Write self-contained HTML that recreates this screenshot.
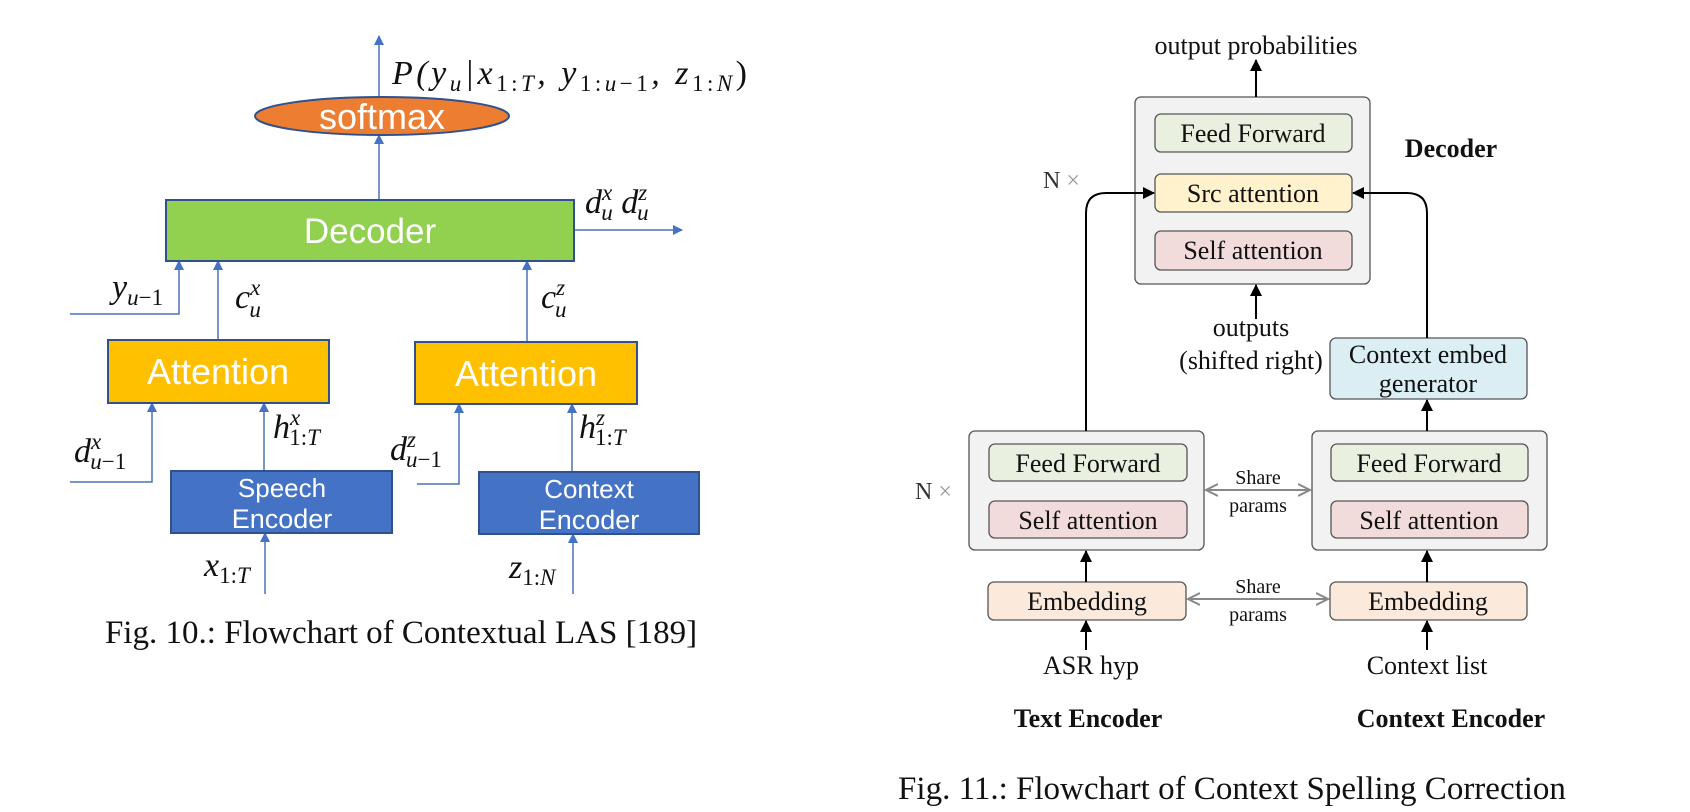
<!DOCTYPE html>
<html><head><meta charset="utf-8"><style>
html,body{margin:0;padding:0;background:#fff;}
svg{display:block;}
.m{font-family:"Liberation Serif",serif;font-style:italic;font-size:34px;fill:#111;}
.s{font-size:23px;}
.w{font-family:"Liberation Sans",sans-serif;fill:#fff;}
.t{font-family:"Liberation Serif",serif;fill:#111;}
</style></head><body>
<svg width="1690" height="812" viewBox="0 0 1690 812" xmlns="http://www.w3.org/2000/svg">
<defs>
<marker id="ab" markerWidth="10" markerHeight="10" refX="9" refY="5" orient="auto" markerUnits="userSpaceOnUse"><path d="M0,0 L10,5 L0,10 z" fill="#4472c4"/></marker>
<marker id="ak" markerWidth="12" markerHeight="12" refX="11" refY="6" orient="auto" markerUnits="userSpaceOnUse"><path d="M0,0 L12,6 L0,12 z" fill="#000"/></marker>
<marker id="ag" markerWidth="14" markerHeight="14" refX="12" refY="7" orient="auto" markerUnits="userSpaceOnUse"><path d="M0,1 L12,7 L0,13" fill="none" stroke="#888" stroke-width="2"/></marker>
<marker id="ags" markerWidth="14" markerHeight="14" refX="2" refY="7" orient="auto" markerUnits="userSpaceOnUse"><path d="M14,1 L2,7 L14,13" fill="none" stroke="#888" stroke-width="2"/></marker>
</defs>

<!-- LEFT DIAGRAM -->
<g stroke="#4a72b8" stroke-width="1.5" fill="none">
<line x1="379" y1="97" x2="379" y2="36" marker-end="url(#ab)"/>
<line x1="379" y1="200" x2="379" y2="135" marker-end="url(#ab)"/>
<line x1="574" y1="230" x2="682" y2="230" marker-end="url(#ab)"/>
<polyline points="70,314 179,314 179,261" marker-end="url(#ab)"/>
<line x1="218" y1="340" x2="218" y2="261" marker-end="url(#ab)"/>
<line x1="527" y1="342" x2="527" y2="261" marker-end="url(#ab)"/>
<polyline points="70,482 152,482 152,403" marker-end="url(#ab)"/>
<line x1="264" y1="471" x2="264" y2="403" marker-end="url(#ab)"/>
<polyline points="417,484 459,484 459,404" marker-end="url(#ab)"/>
<line x1="572" y1="472" x2="572" y2="404" marker-end="url(#ab)"/>
<line x1="265" y1="594" x2="265" y2="533" marker-end="url(#ab)"/>
<line x1="573" y1="594" x2="573" y2="534" marker-end="url(#ab)"/>
</g>
<ellipse cx="382" cy="116" rx="127" ry="19" fill="#ed7d31" stroke="#2f528f" stroke-width="2"/>
<text x="382" y="129" text-anchor="middle" class="w" font-size="36">softmax</text>
<rect x="166" y="200" width="408" height="61" fill="#92d050" stroke="#2f528f" stroke-width="2"/>
<text x="370" y="243" text-anchor="middle" class="w" font-size="35">Decoder</text>
<rect x="108" y="340" width="221" height="63" fill="#ffc000" stroke="#2f528f" stroke-width="2"/>
<text x="218" y="384" text-anchor="middle" class="w" font-size="36">Attention</text>
<rect x="415" y="342" width="222" height="62" fill="#ffc000" stroke="#2f528f" stroke-width="2"/>
<text x="526" y="386" text-anchor="middle" class="w" font-size="36">Attention</text>
<rect x="171" y="471" width="221" height="62" fill="#4472c4" stroke="#2f528f" stroke-width="2"/>
<text x="282" y="497" text-anchor="middle" class="w" font-size="26">Speech</text>
<text x="282" y="528" text-anchor="middle" class="w" font-size="27">Encoder</text>
<rect x="479" y="472" width="220" height="62" fill="#4472c4" stroke="#2f528f" stroke-width="2"/>
<text x="589" y="498" text-anchor="middle" class="w" font-size="26">Context</text>
<text x="589" y="529" text-anchor="middle" class="w" font-size="27">Encoder</text>

<text x="392" y="84" class="m" textLength="355">P(y<tspan class="s" dy="7">u</tspan><tspan dy="-7">|x</tspan><tspan class="s" dy="7" font-style="normal">1:</tspan><tspan class="s" dy="0">T</tspan><tspan dy="-7">, y</tspan><tspan class="s" dy="7" font-style="normal">1:</tspan><tspan class="s">u</tspan><tspan class="s" font-style="normal">−1</tspan><tspan dy="-7">, z</tspan><tspan class="s" dy="7" font-style="normal">1:</tspan><tspan class="s">N</tspan><tspan dy="-7" font-style="normal">)</tspan></text>
<text x="585" y="213" class="m">d<tspan class="s" dy="-13">x</tspan><tspan class="s" dx="-11" dy="20">u</tspan><tspan dy="-7"> d</tspan><tspan class="s" dy="-13">z</tspan><tspan class="s" dx="-10" dy="20">u</tspan></text>
<text x="112" y="298" class="m">y<tspan class="s" dy="7">u</tspan><tspan class="s" dy="0" font-style="normal">−1</tspan></text>
<text x="235" y="308" class="m">c<tspan class="s" dy="-13">x</tspan><tspan class="s" dx="-11" dy="22">u</tspan></text>
<text x="541" y="308" class="m">c<tspan class="s" dy="-13">z</tspan><tspan class="s" dx="-10" dy="22">u</tspan></text>
<text x="74" y="462" class="m">d<tspan class="s" dy="-13">x</tspan><tspan class="s" dx="-11" dy="20">u</tspan><tspan class="s" font-style="normal">−1</tspan></text>
<text x="273" y="438" class="m">h<tspan class="s" dy="-13">x</tspan><tspan class="s" dx="-11" dy="20" font-style="normal">1:</tspan><tspan class="s">T</tspan></text>
<text x="390" y="460" class="m">d<tspan class="s" dy="-13">z</tspan><tspan class="s" dx="-10" dy="20">u</tspan><tspan class="s" font-style="normal">−1</tspan></text>
<text x="579" y="438" class="m">h<tspan class="s" dy="-13">z</tspan><tspan class="s" dx="-10" dy="20" font-style="normal">1:</tspan><tspan class="s">T</tspan></text>
<text x="204" y="576" class="m">x<tspan class="s" dy="7" font-style="normal">1:</tspan><tspan class="s">T</tspan></text>
<text x="509" y="578" class="m">z<tspan class="s" dy="7" font-style="normal">1:</tspan><tspan class="s">N</tspan></text>
<text x="401" y="643" text-anchor="middle" class="t" font-size="33">Fig. 10.: Flowchart of Contextual LAS [189]</text>

<!-- RIGHT DIAGRAM -->
<g font-family="Liberation Serif,serif" fill="#111" text-anchor="middle">
<text x="1256" y="54" font-size="26">output probabilities</text>
<text x="1451" y="157" font-size="26" font-weight="bold">Decoder</text>
<text x="1088" y="727" font-size="26" font-weight="bold">Text Encoder</text>
<text x="1451" y="727" font-size="26" font-weight="bold">Context Encoder</text>
</g>
<g stroke="#888" stroke-width="2">
<line x1="1206" y1="490" x2="1310" y2="490" marker-start="url(#ags)" marker-end="url(#ag)"/>
<line x1="1188" y1="599" x2="1328" y2="599" marker-start="url(#ags)" marker-end="url(#ag)"/>
</g>
<g stroke="#555" stroke-width="1.3">
<rect x="1135" y="97" width="235" height="187" rx="6" fill="#f2f2f2"/>
<rect x="1155" y="114" width="197" height="38" rx="6" fill="#e9f0e0"/>
<rect x="1155" y="174" width="197" height="38" rx="6" fill="#fff2cc"/>
<rect x="1155" y="231" width="197" height="39" rx="6" fill="#f2dcdb"/>
<rect x="1330" y="338" width="197" height="61" rx="6" fill="#daeef3"/>
<rect x="969" y="431" width="235" height="119" rx="6" fill="#f2f2f2"/>
<rect x="989" y="444" width="198" height="37" rx="6" fill="#e9f0e0"/>
<rect x="989" y="501" width="198" height="37" rx="6" fill="#f2dcdb"/>
<rect x="1312" y="431" width="235" height="119" rx="6" fill="#f2f2f2"/>
<rect x="1331" y="444" width="197" height="37" rx="6" fill="#e9f0e0"/>
<rect x="1331" y="501" width="197" height="37" rx="6" fill="#f2dcdb"/>
<rect x="988" y="582" width="198" height="38" rx="6" fill="#fbe9db"/>
<rect x="1330" y="582" width="197" height="38" rx="6" fill="#fbe9db"/>
</g>
<g stroke="#000" stroke-width="2" fill="none">
<line x1="1256" y1="97" x2="1256" y2="60" marker-end="url(#ak)"/>
<line x1="1256" y1="319" x2="1256" y2="285" marker-end="url(#ak)"/>
<path d="M1086,431 L1086,213 Q1086,193 1106,193 L1154,193" marker-end="url(#ak)"/>
<path d="M1427,338 L1427,213 Q1427,193 1407,193 L1353,193" marker-end="url(#ak)"/>
<line x1="1427" y1="431" x2="1427" y2="400" marker-end="url(#ak)"/>
<line x1="1086" y1="582" x2="1086" y2="551" marker-end="url(#ak)"/>
<line x1="1427" y1="582" x2="1427" y2="551" marker-end="url(#ak)"/>
<line x1="1086" y1="650" x2="1086" y2="621" marker-end="url(#ak)"/>
<line x1="1427" y1="650" x2="1427" y2="621" marker-end="url(#ak)"/>
</g>
<g font-family="Liberation Serif,serif" fill="#111" text-anchor="middle" font-size="26">
<text x="1253" y="142">Feed Forward</text>
<text x="1253" y="202">Src attention</text>
<text x="1253" y="259">Self attention</text>
<text x="1428" y="363">Context embed</text>
<text x="1428" y="392">generator</text>
<text x="1251" y="336">outputs</text>
<text x="1251" y="369">(shifted right)</text>
<text x="1088" y="472">Feed Forward</text>
<text x="1088" y="529">Self attention</text>
<text x="1429" y="472">Feed Forward</text>
<text x="1429" y="529">Self attention</text>
<text x="1087" y="610">Embedding</text>
<text x="1428" y="610">Embedding</text>
<text x="1091" y="674">ASR hyp</text>
<text x="1427" y="674">Context list</text>
<text x="1258" y="484" font-size="20">Share</text>
<text x="1258" y="512" font-size="20">params</text>
<text x="1258" y="593" font-size="20">Share</text>
<text x="1258" y="621" font-size="20">params</text>
</g>
<text x="1043" y="188" font-family="Liberation Serif,serif" font-size="24" fill="#333">N <tspan fill="#999">×</tspan></text>
<text x="915" y="499" font-family="Liberation Serif,serif" font-size="24" fill="#333">N <tspan fill="#999">×</tspan></text>
<text x="1232" y="799" text-anchor="middle" class="t" font-size="33">Fig. 11.: Flowchart of Context Spelling Correction</text>
</svg>
</body></html>
